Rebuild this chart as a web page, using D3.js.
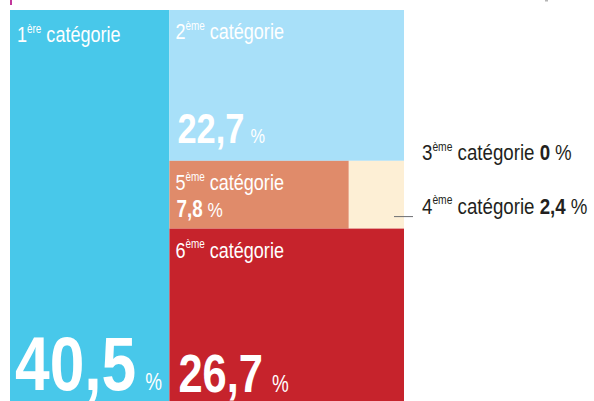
<!DOCTYPE html>
<html>
<head>
<meta charset="utf-8">
<script src="https://cdn.jsdelivr.net/npm/d3@7"></script>
<style>
  html, body { margin: 0; padding: 0; background: #fff; }
  svg { display: block; }
  text { font-family: "Liberation Sans", Arial, sans-serif; }
</style>
</head>
<body>
<svg id="chart" width="594" height="401"></svg>
<script>
// Share of each category (percent)
const ranks    = ["1", "2", "3", "4", "5", "6"];
const suffixes = ["ère", "ème", "ème", "ème", "ème", "ème"];
const word     = "catégorie";
const values   = [40.5, 22.7, 0, 2.4, 7.8, 26.7];
const colors   = ["#48c8ea", "#a8e0f9", "#fdefd5", "#fdefd5", "#e08b6a", "#c6232c"];

// Nesting of the tiles: category 1 beside a stacked column of
// category 2, a row (categories 5, 4, 3), and category 6.
const tree = {
  children: [
    { id: 0 },
    { children: [
        { id: 1 },
        { children: [{ id: 4 }, { id: 3 }, { id: 2 }] },
        { id: 5 }
    ] }
  ]
};

const fr = d3.formatLocale({ decimal: ",", thousands: " ", grouping: [3], currency: ["", " €"] });
const fmt = fr.format(".1~f");

const svg = d3.select("#chart");

const W = 394, H = 396, X0 = 10, Y0 = 10;
const root = d3.hierarchy(tree).sum(d => d.id !== undefined ? values[d.id] : 0);
d3.treemap().tile(d3.treemapSliceDice).size([W, H]).round(false)(root);

const leaves = root.leaves().map(l => ({ id: l.data.id, x0: l.x0 + X0, x1: l.x1 + X0, y0: l.y0 + Y0, y1: l.y1 + Y0 }));
const byId = {};
leaves.forEach(l => byId[l.id] = l);

// cut-off marks along the top edge
svg.append("rect").attr("x", 10).attr("y", 0).attr("width", 2).attr("height", 5).attr("fill", "#c2379b");
svg.append("rect").attr("x", 545).attr("y", 0).attr("width", 3).attr("height", 1.5).attr("fill", "#b5b5b5");

svg.append("g").selectAll("rect")
  .data(leaves.filter(l => values[l.id] > 0))
  .join("rect")
  .attr("x", d => d.x0)
  .attr("y", d => d.y0)
  .attr("width", d => d.x1 - d.x0)
  .attr("height", d => d.y1 - d.y0)
  .attr("fill", d => colors[d.id]);

// condensed type: glyphs narrowed horizontally
const SX = 0.82;
const g = svg.append("g");
function newText(x, y, fill, sx = SX) {
  return g.append("text")
    .attr("transform", `translate(${x},${y}) scale(${sx},1)`)
    .attr("fill", fill);
}

// "Nème catégorie" with raised suffix
function nameLabel(id, x, y, size, fill, sx = SX) {
  const t = newText(x, y, fill, sx).attr("font-size", size);
  t.append("tspan").text(ranks[id]);
  t.append("tspan").attr("font-size", size * 0.55).attr("dy", -size * 0.42).text(suffixes[id]);
  t.append("tspan").attr("dy", size * 0.42).text(" " + word);
  return t;
}

// big bold value with a small percent sign
function valueLabel(id, x, y, size, pctSize, gap, fill) {
  const t = newText(x, y, fill);
  t.append("tspan").attr("font-size", size).attr("font-weight", "bold").text(fmt(values[id]));
  t.append("tspan").attr("font-size", pctSize).attr("dx", gap / SX).text("%");
  return t;
}

// category 1
let c = byId[0];
nameLabel(0, c.x0 + 7, c.y0 + 32, 22, "#fff");
valueLabel(0, c.x0 + 5, c.y1 - 16, 76, 23, 9, "#fff");

// category 2
c = byId[1];
nameLabel(1, c.x0 + 6, c.y0 + 29, 22, "#fff");
valueLabel(1, c.x0 + 8, c.y1 - 18, 42, 20, 6, "#fff");

// category 5
c = byId[4];
nameLabel(4, c.x0 + 6, c.y0 + 29, 22, "#fff");
valueLabel(4, c.x0 + 7, c.y0 + 56, 23, 21, 5, "#fff");

// category 6
c = byId[5];
nameLabel(5, c.x0 + 6, c.y0 + 29, 22, "#fff");
valueLabel(5, c.x0 + 9, c.y1 - 14, 53, 23, 9, "#fff");

// categories 3 and 4 labelled outside the block
const ink = "#231f20";
function outsideLabel(id, x, y) {
  const sx = 0.85;
  const t = nameLabel(id, x, y, 22, ink, sx);
  t.append("tspan").attr("font-weight", "bold").text(" " + fmt(values[id]));
  t.append("tspan").attr("dx", 5 / sx).text("%");
}
c = byId[2];
outsideLabel(2, c.x1 + 18, c.y0 - 1);
c = byId[3];
outsideLabel(3, c.x1 + 18, c.y1 - 15);
g.append("line")
  .attr("x1", c.x1 - 10).attr("x2", c.x1 + 9)
  .attr("y1", c.y1 - 12).attr("y2", c.y1 - 12)
  .attr("stroke", "#6d6e71").attr("stroke-width", 1);
</script>
</body>
</html>
